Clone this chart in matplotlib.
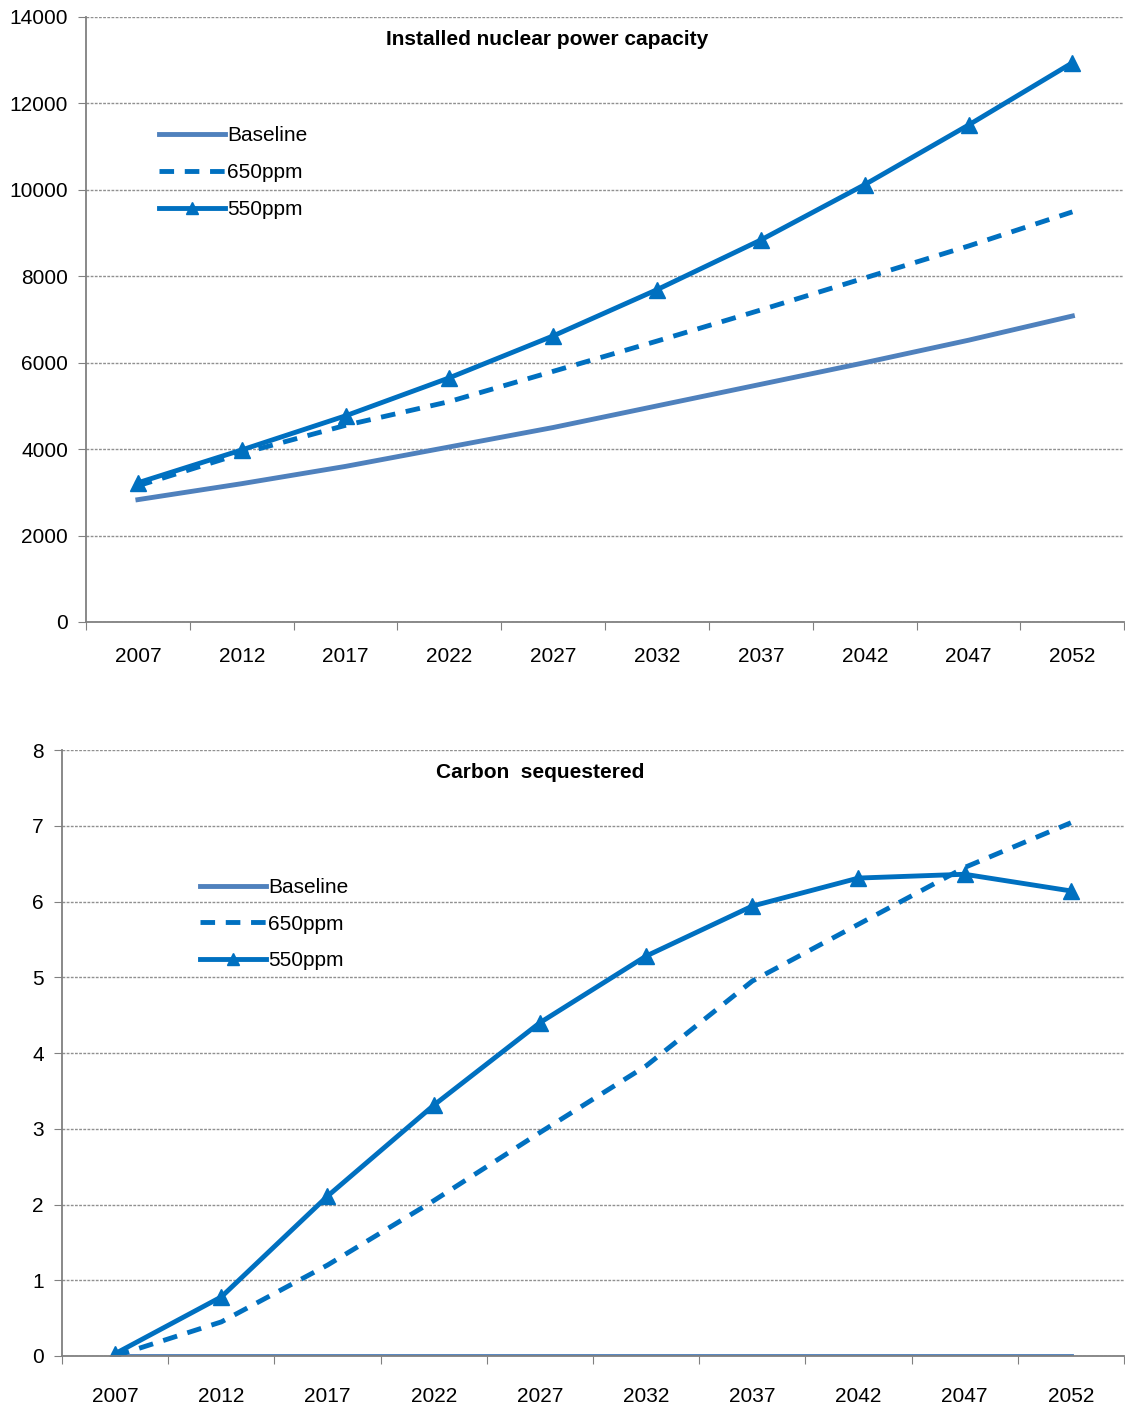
import matplotlib
matplotlib.use("Agg")
import matplotlib.pyplot as plt
import numpy as np

plt.rcParams["font.family"] = ["Liberation Sans", "DejaVu Sans"]

years = ["2007", "2012", "2017", "2022", "2027", "2032", "2037", "2042", "2047", "2052"]

nuc_base = [2830, 3200, 3600, 4050, 4500, 5000, 5500, 6000, 6520, 7080]
nuc_650 = [3150, 3900, 4550, 5100, 5800, 6500, 7220, 7960, 8700, 9490]
nuc_550 = [3220, 3980, 4770, 5650, 6620, 7690, 8840, 10120, 11500, 12940]

carb_base = [0, 0, 0, 0, 0, 0, 0, 0, 0, 0]
carb_650 = [0.0, 0.45, 1.2, 2.05, 2.95, 3.83, 4.95, 5.7, 6.45, 7.04]
carb_550 = [0.03, 0.78, 2.11, 3.31, 4.4, 5.28, 5.94, 6.31, 6.36, 6.14]

C_BASE = "#4f81bd"
C_SCEN = "#0070c0"
FS = 15


def panel(ax, base, s650, s550, ymax, ystep, title, title_x, legend_anchor, xpad):
    x = np.arange(len(years))
    ax.plot(x, base, color=C_BASE, lw=3.5, label="Baseline")
    ax.plot(x, s650, color=C_SCEN, lw=3.5, ls=(0, (3, 2.2)), label="650ppm")
    ax.plot(x, s550, color=C_SCEN, lw=3.5, marker="^", ms=12, label="550ppm")
    ax.set_xlim(-0.5, len(years) - 0.5)
    ax.set_ylim(0, ymax)
    ax.set_yticks(np.arange(0, ymax + ystep / 2, ystep))
    ax.yaxis.grid(True, ls=(0, (2, 1)), color="#909090", lw=1)
    ax.set_axisbelow(True)
    ax.set_xticks(np.arange(-0.5, len(years)), labels=[""] * (len(years) + 1))
    ax.set_xticks(x, labels=years, minor=True)
    ax.tick_params(axis="x", which="minor", length=0, pad=xpad, labelsize=FS)
    ax.tick_params(axis="x", which="major", length=6, direction="out", color="#808080")
    ax.tick_params(axis="y", length=6, direction="out", color="#808080", labelsize=FS, pad=7)
    for s in ("top", "right"):
        ax.spines[s].set_visible(False)
    for s in ("left", "bottom"):
        ax.spines[s].set_color("#808080")
        ax.spines[s].set_linewidth(1.3)
    ax.text(title_x, 0.963, title, transform=ax.transAxes, ha="center", va="center",
            fontsize=FS, fontweight="bold")
    leg = ax.legend(loc="upper left", bbox_to_anchor=legend_anchor, frameon=False,
                    fontsize=FS, handlelength=3.2, handletextpad=0.1, labelspacing=0.85)
    leg.legend_handles[2].set_markersize(8)


fig = plt.figure(figsize=(11.25, 14.03), dpi=100)
ax1 = fig.add_axes([0.0764, 0.5567, 0.923, 0.4312])
ax2 = fig.add_axes([0.0551, 0.0335, 0.944, 0.4319])

panel(ax1, nuc_base, nuc_650, nuc_550, 14000, 2000,
      "Installed nuclear power capacity", 0.444, (0.052, 0.85), 18)
panel(ax2, carb_base, carb_650, carb_550, 8, 1,
      "Carbon  sequestered", 0.45, (0.112, 0.82), 22)

fig.savefig("out.png", dpi=100)
